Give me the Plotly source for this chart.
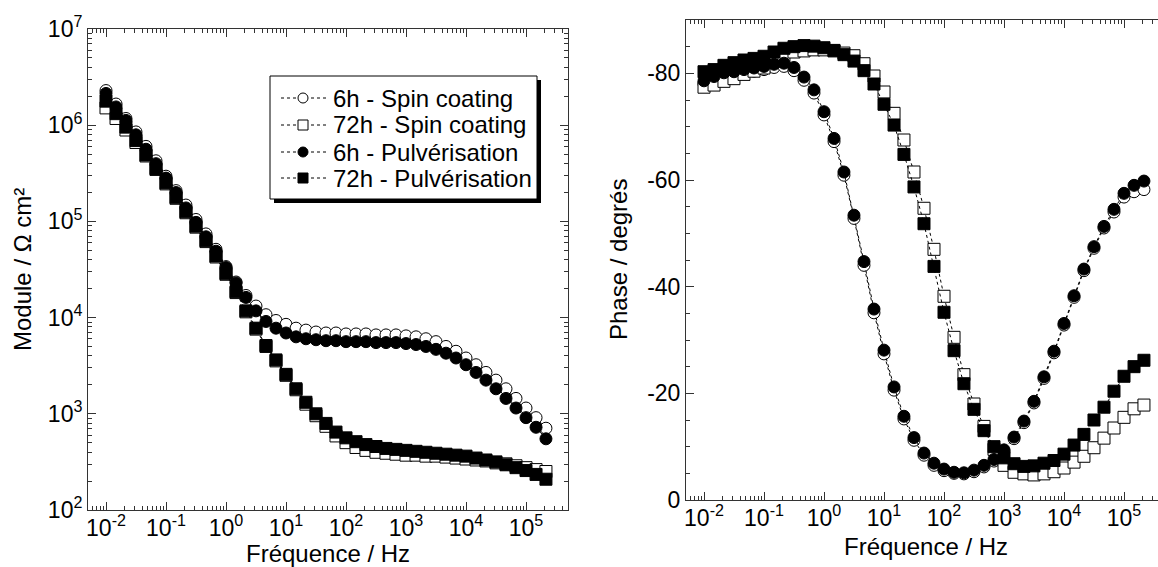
import plotly.graph_objects as go

# ---------------- data ----------------
freq = [0.01, 0.0147, 0.0215, 0.0316, 0.0464, 0.0681, 0.1, 0.147, 0.215, 0.316,
        0.464, 0.681, 1.0, 1.47, 2.15, 3.16, 4.64, 6.81, 10.0, 14.7,
        21.5, 31.6, 46.4, 68.1, 100.0, 147.0, 215.0, 316.0, 464.0, 681.0,
        1000.0, 1470.0, 2150.0, 3160.0, 4640.0, 6810.0, 10000.0, 14700.0, 21500.0, 31600.0,
        46400.0, 68100.0, 100000.0, 147000.0, 215000.0]

# log10 |Z| (Ohm cm2)
logz_6h_spin = [6.36, 6.22, 6.07, 5.93, 5.78, 5.63, 5.47, 5.32, 5.17, 5.02,
                4.87, 4.71, 4.53, 4.37, 4.23, 4.12, 4.03, 3.97, 3.93, 3.89,
                3.87, 3.85, 3.84, 3.84, 3.83, 3.83, 3.83, 3.82, 3.82, 3.82,
                3.81, 3.80, 3.78, 3.75, 3.70, 3.65, 3.58, 3.51, 3.43, 3.35,
                3.26, 3.16, 3.06, 2.96, 2.85]
logz_72h_spin = [6.18, 6.07, 5.95, 5.82, 5.68, 5.54, 5.39, 5.24, 5.09, 4.94,
                 4.79, 4.63, 4.45, 4.26, 4.06, 3.88, 3.70, 3.55, 3.40, 3.25,
                 3.10, 2.98, 2.87, 2.77, 2.70, 2.65, 2.62, 2.60, 2.59, 2.58,
                 2.57, 2.57, 2.56, 2.56, 2.55, 2.54, 2.53, 2.52, 2.51, 2.49,
                 2.48, 2.46, 2.44, 2.42, 2.40]
logz_6h_pulv = [6.33, 6.19, 6.05, 5.90, 5.75, 5.60, 5.45, 5.30, 5.14, 4.99,
                4.84, 4.69, 4.52, 4.36, 4.21, 4.07, 3.96, 3.89, 3.84, 3.80,
                3.78, 3.77, 3.76, 3.76, 3.75, 3.75, 3.75, 3.74, 3.74, 3.74,
                3.73, 3.72, 3.70, 3.67, 3.63, 3.58, 3.51, 3.43, 3.35, 3.26,
                3.16, 3.06, 2.96, 2.86, 2.74]
logz_72h_pulv = [6.25, 6.12, 5.98, 5.84, 5.69, 5.55, 5.40, 5.25, 5.10, 4.95,
                 4.80, 4.64, 4.46, 4.27, 4.07, 3.89, 3.71, 3.56, 3.41, 3.26,
                 3.12, 3.00, 2.90, 2.81, 2.75, 2.71, 2.68, 2.66, 2.64, 2.63,
                 2.62, 2.61, 2.60, 2.59, 2.58, 2.57, 2.56, 2.54, 2.52, 2.50,
                 2.47, 2.44, 2.41, 2.37, 2.32]

# phase (degrees)
ph_6h_spin = [-78.0, -78.8, -79.5, -79.7, -80.1, -80.4, -80.7, -81.1, -81.3, -80.5,
              -78.7, -76.3, -72.2, -67.2, -60.9, -52.8, -44.0, -35.1, -27.4, -20.6,
              -15.2, -11.2, -8.4, -6.5, -5.5, -5.0, -4.9, -5.3, -6.2, -7.3,
              -9.1, -11.5, -14.5, -18.2, -22.8, -27.6, -32.8, -38.0, -43.0, -47.2,
              -51.0, -54.0, -56.8, -57.8, -58.2]
ph_72h_spin = [-77.4, -77.8, -78.5, -79.0, -79.8, -80.4, -81.0, -82.3, -83.0, -84.0,
               -84.2, -84.4, -84.4, -84.2, -83.8, -83.3, -81.8, -79.5, -76.5, -72.5,
               -67.5, -61.5, -54.7, -47.0, -38.2, -30.5, -23.5, -18.0, -13.8, -9.5,
               -6.5, -5.2, -4.9, -4.7, -4.9, -5.3, -6.0, -7.1, -8.2, -9.8,
               -11.6, -13.5, -15.5, -17.1, -17.8]
ph_6h_pulv = [-78.6, -79.4, -80.1, -80.3, -80.7, -81.0, -81.3, -81.7, -81.9, -81.1,
              -79.3, -76.9, -72.8, -67.8, -61.5, -53.4, -44.7, -35.8, -28.1, -21.2,
              -15.7, -11.7, -8.8, -6.9, -5.8, -5.2, -5.1, -5.6, -6.5, -7.6,
              -9.4, -11.8, -14.8, -18.5, -23.1, -27.9, -33.1, -38.3, -43.3, -47.5,
              -51.3, -54.5, -57.5, -59.0, -59.8]
ph_72h_pulv = [-80.3, -80.7, -81.5, -82.0, -82.5, -82.8, -83.2, -84.0, -84.7, -85.0,
               -85.2, -85.1, -84.8, -84.3, -83.5, -82.3, -80.5, -78.0, -74.2, -70.3,
               -64.8, -58.7, -51.8, -43.8, -35.2, -28.0, -21.8, -17.0, -13.0, -10.0,
               -7.9, -6.8, -6.3, -6.4, -6.9, -7.4, -8.6, -10.3, -12.3, -15.0,
               -17.4, -20.4, -23.2, -25.0, -26.2]

series_names = ["6h - Spin coating", "72h - Spin coating",
                "6h - Pulvérisation", "72h - Pulvérisation"]

x_tick_vals = [1e-2, 1e-1, 1e0, 1e1, 1e2, 1e3, 1e4, 1e5]
x_tick_text = ["10<sup>-2</sup>", "10<sup>-1</sup>", "10<sup>0</sup>", "10<sup>1</sup>",
               "10<sup>2</sup>", "10<sup>3</sup>", "10<sup>4</sup>", "10<sup>5</sup>"]
y1_tick_vals = [1e2, 1e3, 1e4, 1e5, 1e6, 1e7]
y1_tick_text = ["10<sup>2</sup>", "10<sup>3</sup>", "10<sup>4</sup>",
                "10<sup>5</sup>", "10<sup>6</sup>", "10<sup>7</sup>"]
y2_tick_vals = [0, -20, -40, -60, -80]
y2_tick_text = ["0", "-20", "-40", "-60", "-80"]

# ---------------- figure ----------------
W, H = 1158, 567
FONT = "Liberation Sans, Arial, sans-serif"
AX = "#333333"
TXT = 24
TICK = 23

styles = [
    dict(symbol="circle", color="white"),
    dict(symbol="square", color="white"),
    dict(symbol="circle", color="black"),
    dict(symbol="square", color="black"),
]
mods = [logz_6h_spin, logz_72h_spin, logz_6h_pulv, logz_72h_pulv]
phases = [ph_6h_spin, ph_72h_spin, ph_6h_pulv, ph_72h_pulv]

fig = go.Figure()
for name, st, lz in zip(series_names, styles, mods):
    fig.add_trace(go.Scatter(
        x=freq, y=[10 ** v for v in lz], mode="lines+markers", name=name,
        xaxis="x", yaxis="y", showlegend=False,
        line=dict(color="black", width=1, dash="dot"),
        marker=dict(symbol=st["symbol"], color=st["color"], size=12,
                    line=dict(color="black", width=1)),
    ))
for name, st, ph in zip(series_names, styles, phases):
    fig.add_trace(go.Scatter(
        x=freq, y=ph, mode="lines+markers", name=name, showlegend=False,
        xaxis="x2", yaxis="y2",
        line=dict(color="black", width=1, dash="dot"),
        marker=dict(symbol=st["symbol"], color=st["color"], size=12,
                    line=dict(color="black", width=1)),
    ))


def minor_log(lo, hi):
    vals = []
    for e in range(lo, hi + 1):
        for m in range(2, 10):
            vals.append(m * 10 ** e)
    return vals


def px_x(p):
    return p / W


def px_y(p):
    return 1 - p / H


common = dict(showgrid=False, zeroline=False, showline=True, linecolor=AX, linewidth=1,
              ticks="inside", ticklen=8, tickcolor=AX, tickwidth=1, automargin=False,
              tickfont=dict(family=FONT, size=TICK, color="black"))

# ---- hand-drawn legend (box with drop shadow) ----
LEG_L, LEG_R, LEG_T, LEG_B = 270, 537, 76, 199
SHADOW = 4
row_y = [98, 125, 152, 178]
shapes = [
    dict(type="rect", xref="paper", yref="paper",
         x0=px_x(LEG_L + SHADOW), x1=px_x(LEG_R + SHADOW),
         y0=px_y(LEG_B + SHADOW), y1=px_y(LEG_T + SHADOW),
         fillcolor="black", line=dict(width=0), layer="above"),
    dict(type="rect", xref="paper", yref="paper",
         x0=px_x(LEG_L), x1=px_x(LEG_R), y0=px_y(LEG_B), y1=px_y(LEG_T),
         fillcolor="white", line=dict(color="black", width=1), layer="above"),
]
annotations = []
MS = 5  # half marker size in legend
for name, st, ry in zip(series_names, styles, row_y):
    shapes.append(dict(type="line", xref="paper", yref="paper",
                       x0=px_x(281), x1=px_x(328), y0=px_y(ry), y1=px_y(ry),
                       line=dict(color="black", width=1, dash="dot"), layer="above"))
    shapes.append(dict(type="circle" if st["symbol"] == "circle" else "rect",
                       xref="paper", yref="paper",
                       x0=px_x(303 - MS), x1=px_x(303 + MS),
                       y0=px_y(ry + MS), y1=px_y(ry - MS),
                       fillcolor=st["color"], line=dict(color="black", width=1),
                       layer="above"))
    annotations.append(dict(text=name, xref="paper", yref="paper",
                            x=px_x(331), y=px_y(ry), xanchor="left", yanchor="middle",
                            showarrow=False,
                            font=dict(family=FONT, size=TXT, color="black")))

annotations += [
    dict(text="Fréquence / Hz", xref="paper", yref="paper", x=px_x(328), y=px_y(553),
         xanchor="center", yanchor="middle", showarrow=False, borderpad=0,
         font=dict(family=FONT, size=TXT, color="black")),
    dict(text="Fréquence / Hz", xref="paper", yref="paper", x=px_x(926), y=px_y(546),
         xanchor="center", yanchor="middle", showarrow=False, borderpad=0,
         font=dict(family=FONT, size=TXT, color="black")),
    dict(text="Module / Ω cm²", xref="paper", yref="paper", x=px_x(22), y=px_y(270),
         xanchor="center", yanchor="middle", showarrow=False, textangle=-90,
         font=dict(family=FONT, size=TXT, color="black")),
    dict(text="Phase / degrés", xref="paper", yref="paper", x=px_x(618), y=px_y(260),
         xanchor="center", yanchor="middle", showarrow=False, textangle=-90,
         font=dict(family=FONT, size=TXT, color="black")),
]

fig.update_layout(
    width=W, height=H, margin=dict(l=0, r=0, t=0, b=0, pad=0, autoexpand=False),
    paper_bgcolor="white", plot_bgcolor="white",
    font=dict(family=FONT, size=TICK, color="black"),
    showlegend=False,
    xaxis=dict(domain=[px_x(88), px_x(568)], type="log", range=[-2.3, 5.7],
               tickmode="array", tickvals=x_tick_vals, ticktext=x_tick_text,
               mirror="ticks", anchor="y", ticklabelstandoff=-3,
               minor=dict(tickmode="array", tickvals=minor_log(-3, 5), ticks="inside",
                          ticklen=4, tickcolor=AX, showgrid=False),
               **common),
    yaxis=dict(domain=[px_y(510), px_y(29)], type="log", range=[2, 7],
               tickmode="array", tickvals=y1_tick_vals, ticktext=y1_tick_text,
               mirror="ticks", anchor="x",
               minor=dict(tickmode="array", tickvals=minor_log(2, 6), ticks="inside",
                          ticklen=4, tickcolor=AX, showgrid=False),
               **common),
    xaxis2=dict(domain=[px_x(686), 1.0], type="log", range=[-2.3, -2.3 + (W - 686) / 60.0],
                tickmode="array", tickvals=x_tick_vals, ticktext=x_tick_text,
                mirror="ticks", anchor="y2", ticklabelstandoff=-3,
                minor=dict(tickmode="array", tickvals=minor_log(-3, 5), ticks="inside",
                           ticklen=4, tickcolor=AX, showgrid=False),
                **common),
    yaxis2=dict(domain=[px_y(500), px_y(20)], range=[0, -90],
                tickmode="array", tickvals=y2_tick_vals, ticktext=y2_tick_text,
                mirror=False, anchor="x2",
                minor=dict(dtick=5, ticks="inside", ticklen=4, tickcolor=AX, showgrid=False),
                **common),
    shapes=shapes,
    annotations=annotations,
)

fig.write_html("out.html")
